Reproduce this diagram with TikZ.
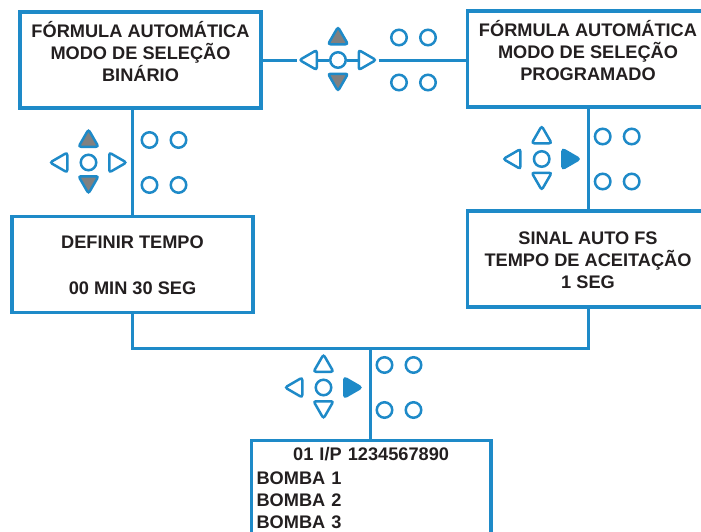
\documentclass[tikz,border=0pt]{standalone}
\usepackage{fontspec}
\setmainfont{Liberation Sans}
\usetikzlibrary{calc, shapes.geometric}

\definecolor{lineblue}{RGB}{30,138,200}
\definecolor{keygray}{RGB}{128,128,128}
\definecolor{textdark}{RGB}{35,31,32}

% keypad: name, centre, up/down style, right style
\newcommand{\keypad}[4]{%
  \node[key] (#1c) at (#2) {};
  \node[tri, shape border rotate=0, #3]   (#1u) at ($(#1c)+(0,-21.5)$) {};
  \node[tri, shape border rotate=180, #3] (#1d) at ($(#1c)+(0,19.5)$) {};
  \node[tri, shape border rotate=90]      (#1l) at ($(#1c)+(-27,0)$) {};
  \node[tri, shape border rotate=-90, #4] (#1r) at ($(#1c)+(26.5,0)$) {};
  \foreach \kx/\ky/\kn in {61/-22.5/a, 90/-22.5/b, 61/22.5/e, 90/22.5/f}
    \node[key] (#1\kn) at ($(#1c)+(\kx,\ky)$) {};
}

\begin{document}
\begin{tikzpicture}[x=1pt, y=-1pt,
      screen/.style={draw=lineblue, line width=3.2pt, minimum width=241pt,
                     minimum height=96pt, inner sep=0pt, align=center,
                     font=\bfseries\fontsize{18.2}{22}\selectfont, text=textdark,
                     text height=58pt, text depth=0pt},
      link/.style={draw=lineblue, line width=3pt},
      key/.style={circle, draw=lineblue, line width=2.5pt, minimum size=15.5pt,
                  inner sep=0pt, fill=white},
      tri/.style={regular polygon, regular polygon sides=3, draw=lineblue,
                  line width=2.5pt, minimum size=23pt, inner sep=0pt,
                  rounded corners=2.5pt, fill=white},
      pressed/.style={fill=keygray},
      active/.style={fill=lineblue}]

    \useasboundingbox (0,0) rectangle (701,531);

    % Screens
    \node[screen, text depth=16pt] (binary) at (140.5,60)
      {FÓRMULA AUTOMÁTICA\\MODO DE SELEÇÃO\\BINÁRIO};
    \node[screen, text depth=16pt] (program) at (588,59)
      {FÓRMULA AUTOMÁTICA\\MODO DE SELEÇÃO\\PROGRAMADO};
    \node[screen, text height=60pt] (timer) at (132.5,264.5)
      {DEFINIR TEMPO\\[24pt]00 MIN 30 SEG};
    \node[screen] (signal) at (588,259)
      {SINAL AUTO FS\\TEMPO DE ACEITAÇÃO\\1 SEG};
    \node[screen, anchor=north west, minimum width=0pt, minimum height=0pt,
          text width=229pt, align=left, inner xsep=5.3pt, inner ysep=6.3pt,
          text height=14pt, text depth=100pt] (pumps) at (249.7,439)
      {\makebox[229pt]{01 I/P 1234567890}\\[2pt]BOMBA 1\\BOMBA 2\\BOMBA 3};

    % Keypads
    \keypad{top}{338,60}{pressed}{}
    \keypad{left}{88.5,162.5}{pressed}{}
    \keypad{right}{541.7,159}{}{active}
    \keypad{low}{323.5,387.5}{}{active}

    % Links between screens
    \draw[link] (binary.east) -- (topl.west);
    \draw[link] (topl.east) -- (topc.west);
    \draw[link] (topc.east) -- (topr.west);
    \draw[link] (topr.east) -- (topr.east -| program.west);
    \draw[link] (timer.north) -- (timer.north |- binary.south);
    \draw[link] (program.south) -- (signal.north);
    \coordinate (merge) at (370,348);
    \draw[link] (timer.south) |- (merge) -| (signal.south);
    \draw[link] (merge) -- (merge |- pumps.north);

\end{tikzpicture}
\end{document}
